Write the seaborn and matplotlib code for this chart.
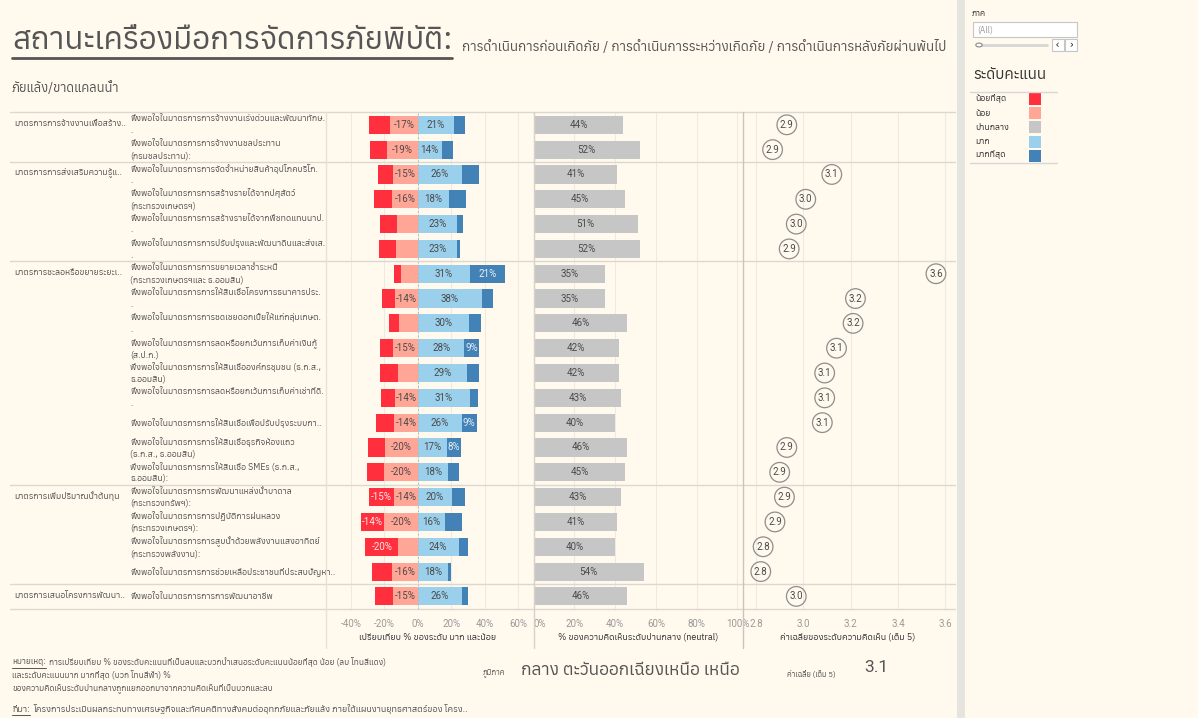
import matplotlib
matplotlib.use("Agg")
import numpy as np
import pandas as pd
import matplotlib.pyplot as plt
import seaborn as sns
from matplotlib import font_manager
from matplotlib.ft2font import FT2Font
from matplotlib.lines import Line2D
from matplotlib.patches import Rectangle, Circle

# ---------------- data ----------------
group_names = [
    "มาตรการการจ้างงานเพื่อสร้าง..",
    "มาตรการการส่งเสริมความรู้แ..",
    "มาตรการชะลอหรือขยายระยะเ..",
    "มาตรการเพิ่มปริมาณน้ำต้นทุน",
    "มาตรการเสนอโครงการพัฒนา..",
]
group_sizes = [2, 4, 9, 4, 1]

measures = [
    "พึงพอใจในมาตรการการจ้างงานเร่งด่วนและพัฒนาทักษ.\n.",
    "พึงพอใจในมาตรการการจ้างงานชลประทาน\n(กรมชลประทาน):",
    "พึงพอใจในมาตรการการจัดจำหน่ายสินค้าอุปโภคบริโภ.\n.",
    "พึงพอใจในมาตรการการสร้างรายได้จากปศุสัตว์\n(กระทรวงเกษตรฯ)",
    "พึงพอใจในมาตรการการสร้างรายได้จากพืชทดแทนนาป.\n.",
    "พึงพอใจในมาตรการการปรับปรุงและพัฒนาดินและส่งเส.\n.",
    "พึงพอใจในมาตรการการขยายเวลาชำระหนี้\n(กระทรวงเกษตรฯและ ธ.ออมสิน)",
    "พึงพอใจในมาตรการการให้สินเชื่อโครงการธนาคารประ.\n.",
    "พึงพอใจในมาตรการการชดเชยดอกเบี้ยให้แก่กลุ่มเกษต.\n.",
    "พึงพอใจในมาตรการการลดหรือยกเว้นการเก็บค่าเงินกู้\n(ส.ป.ก.)",
    "พึงพอใจในมาตรการการให้สินเชื่อองค์กรชุมชน (ธ.ก.ส.,\nธ.ออมสิน)",
    "พึงพอใจในมาตรการการลดหรือยกเว้นการเก็บค่าเช่าที่ดิ.\n.",
    "พึงพอใจในมาตรการการให้สินเชื่อเพื่อปรับปรุงระบบกา..",
    "พึงพอใจในมาตรการการให้สินเชื่อธุรกิจห้องแถว\n(ธ.ก.ส., ธ.ออมสิน)",
    "พึงพอใจในมาตรการการให้สินเชื่อ SMEs (ธ.ก.ส.,\nธ.ออมสิน):",
    "พึงพอใจในมาตรการการพัฒนาแหล่งน้ำบาดาล\n(กระทรวงทรัพฯ):",
    "พึงพอใจในมาตรการการปฏิบัติการฝนหลวง\n(กระทรวงเกษตรฯ):",
    "พึงพอใจในมาตรการการสูบน้ำด้วยพลังงานแสงอาทิตย์\n(กระทรวงพลังงาน):",
    "พึงพอใจในมาตรการการช่วยเหลือประชาชนที่ประสบปัญหา..",
    "พึงพอใจในมาตรการการการพัฒนาอาชีพ",
]

# share of answers per level (%)
very_low = [12.3, 10.2, 9.4, 11.0, 10.4, 10.3, 4.0, 7.8, 6.2, 8.2,
            11.2, 8.7, 10.8, 10.0, 10.6, 14.9, 13.8, 19.9, 11.6, 10.8]
low = [16.8, 18.6, 14.6, 15.5, 12.3, 12.8, 10.2, 13.5, 11.0, 14.6,
       11.6, 13.6, 14.0, 19.6, 20.1, 14.2, 20.1, 11.6, 15.6, 14.6]
neutral = [44, 52, 41, 45, 51, 52, 35, 35, 46, 42,
           42, 43, 40, 46, 45, 43, 41, 40, 54, 46]
high = [21.4, 14.2, 26.2, 18.4, 23.4, 23.3, 31.0, 38.2, 30.4, 27.9,
        29.4, 31.4, 26.2, 17.2, 18.3, 20.2, 16.1, 24.4, 18.3, 26.3]
very_high = [6.6, 6.8, 10.2, 10.6, 3.6, 2.0, 21.4, 6.6, 7.6, 8.8,
             7.0, 4.4, 9.0, 8.4, 6.4, 7.8, 10.2, 5.6, 1.6, 3.8]
mean_score = [2.93, 2.87, 3.12, 3.01, 2.97, 2.94, 3.56, 3.22, 3.21, 3.14,
              3.09, 3.09, 3.08, 2.93, 2.90, 2.92, 2.88, 2.83, 2.82, 2.97]

div_ticks = [-40, -20, 0, 20, 40, 60]
neu_ticks = [0, 20, 40, 60, 80, 100]
avg_ticks = [2.8, 3.0, 3.2, 3.4, 3.6]

level_names = ["น้อยที่สุด", "น้อย", "ปานกลาง", "มาก", "มากที่สุด"]
level_colors = ["#FF2F3D", "#FFA697", "#C6C6C6", "#9BD0EC", "#4382B7"]

regions = ["กลาง", "ตะวันออกเฉียงเหนือ", "เหนือ"]
overall_mean = 3.1

# ---------------- style ----------------
sns.set_theme(style="white")


def thai_capable_family():
    found = []
    for fe in font_manager.fontManager.ttflist:
        try:
            ft = FT2Font(fe.fname)
        except Exception:
            continue
        if ft.get_char_index(0x0E01) and ft.get_char_index(0x0E49):
            w = fe.weight if isinstance(fe.weight, (int, float)) else 400
            found.append((fe.style != "normal", abs(w - 400), "Looped" in fe.name, fe.name))
    if not found:
        return None
    found.sort()
    return found[0][3]


thai = thai_capable_family()
families = ([thai] if thai else []) + ["DejaVu Sans"]
plt.rcParams["font.family"] = families
NUM_FONT = ["Roboto"] + families

BG = "#FFF9EE"
TXT = "#555555"
LINE = "#DCD8CF"
GRID = "#EFEAE0"

W, H = 1198, 718
fig = plt.figure(figsize=(W / 100, H / 100), dpi=100)
fig.patch.set_facecolor(BG)


def px_axes(x0, y0, x1, y1):
    ax = fig.add_axes([x0 / W, 1 - y1 / H, (x1 - x0) / W, (y1 - y0) / H])
    ax.set_facecolor("none")
    for s in ax.spines.values():
        s.set_visible(False)
    return ax


def ftext(x, y, s, **kw):
    return fig.text(x / W, 1 - y / H, s, **kw)


def fline(xs, ys, **kw):
    fig.add_artist(Line2D([x / W for x in xs], [1 - y / H for y in ys],
                          transform=fig.transFigure, **kw))


def frect(x0, y0, x1, y1, **kw):
    fig.add_artist(Rectangle((x0 / W, 1 - y1 / H), (x1 - x0) / W, (y1 - y0) / H,
                             transform=fig.transFigure, **kw))


TOP, BOT = 112.4, 608.8
n = len(measures)
row_h = (BOT - TOP) / n

df = pd.DataFrame({
    "row": [f"m{i:02d}" for i in range(n)],
    "very_low": very_low, "low": low, "neutral": neutral,
    "high": high, "very_high": very_high, "mean": mean_score,
})
df["neg_total"] = -(df["very_low"] + df["low"])
df["neg_inner"] = -df["low"]
df["pos_total"] = df["high"] + df["very_high"]
order = df["row"].tolist()

ax_lab = px_axes(10, TOP, 326, BOT)
ax_div = px_axes(326, TOP, 533.5, BOT)
ax_neu = px_axes(533.5, TOP, 743, BOT)
ax_avg = px_axes(743, TOP, 953, BOT)

# ---------------- diverging bars ----------------
bar_w = 0.73
common = dict(y="row", order=order, orient="h", width=bar_w, saturation=1,
              errorbar=None, linewidth=0, ax=ax_div)
sns.barplot(data=df, x="neg_total", color=level_colors[0], **common)
sns.barplot(data=df, x="neg_inner", color=level_colors[1], **common)
sns.barplot(data=df, x="pos_total", color=level_colors[4], **common)
sns.barplot(data=df, x="high", color=level_colors[3], **common)
ax_div.set_xlim(-55, 69.3)

sns.barplot(data=df, x="neutral", y="row", order=order, orient="h", width=bar_w,
            saturation=1, errorbar=None, linewidth=0, color=level_colors[2], ax=ax_neu)
ax_neu.set_xlim(0, 102.7)

sns.scatterplot(data=df, x="mean", y="row", ax=ax_avg, s=200, marker="o",
                facecolors="none", edgecolor="#8E8E8E", linewidth=0.9, zorder=3)
ax_avg.set_xlim(2.745, 3.632)

for ax in (ax_lab, ax_div, ax_neu, ax_avg):
    ax.set_ylim(n - 0.5, -0.5)
    ax.set_ylabel("")
    ax.set_xlabel("")
    ax.set_yticks([])

# grid lines
for ax, ticks in ((ax_div, div_ticks), (ax_neu, neu_ticks), (ax_avg, avg_ticks)):
    for t in ticks:
        ax.axvline(t, color=GRID, lw=0.8, zorder=0)
ax_div.axvline(0, color="#B8B8B8", lw=0.7, ls=(0, (2, 2)), zorder=5)

fmt_pct = lambda v: f"{v:.0f}%"
ax_div.set_xticks(div_ticks, [fmt_pct(t) for t in div_ticks])
ax_neu.set_xticks(neu_ticks, [fmt_pct(t) for t in neu_ticks])
ax_avg.set_xticks(avg_ticks, [f"{t:.1f}" for t in avg_ticks])
for ax in (ax_div, ax_neu, ax_avg):
    ax.tick_params(axis="x", length=0, pad=7, labelsize=7, labelcolor="#9A9A9A")
    for lab in ax.get_xticklabels():
        lab.set_family(NUM_FONT)
# keep the first neutral tick inside its pane
ax_neu.get_xticklabels()[0].set_ha("left")
ax_lab.set_xticks([])
ax_lab.set_xlim(0, 316)

fig.canvas.draw()
renderer = fig.canvas.get_renderer()

# ---------------- bar value labels ----------------
div_px_per_unit = (533.5 - 326) / (69.3 + 55)


def seg_label(ax, x, y, value, seg_px, sign, color):
    s = f"{'-' if sign < 0 else ''}{value:.0f}%"
    t = ax.text(x, y, s, ha="center", va="center", fontsize=7, color=color,
                family=NUM_FONT, zorder=6)
    w = t.get_window_extent(renderer).width
    if w + 1.0 > seg_px:
        t.remove()


for i in range(n):
    vl, lo, hi, vh = very_low[i], low[i], high[i], very_high[i]
    seg_label(ax_div, -(lo + vl / 2), i, vl, vl * div_px_per_unit, -1, "#FFE9EA")
    seg_label(ax_div, -lo / 2, i, lo, lo * div_px_per_unit, -1, "#4A4A4A")
    seg_label(ax_div, hi / 2, i, hi, hi * div_px_per_unit, 1, "#4A4A4A")
    seg_label(ax_div, hi + vh / 2, i, vh, vh * div_px_per_unit, 1, "#E6F0F8")
    ax_neu.text(neutral[i] / 2, i, f"{neutral[i]:.0f}%", ha="center", va="center",
                fontsize=7, color="#4A4A4A", family=NUM_FONT)
    ax_avg.text(mean_score[i], i, f"{mean_score[i]:.1f}", ha="center", va="center",
                fontsize=7, color="#4A4A4A", family=NUM_FONT, zorder=4)

# ---------------- row / group labels ----------------
starts = np.cumsum([0] + group_sizes[:-1])
for g, st in zip(group_names, starts):
    ax_lab.text(4, st - 0.05, g, ha="left", va="center", fontsize=6.3, color=TXT)
for i, m in enumerate(measures):
    ax_lab.text(120, i, m, ha="left", va="center", fontsize=6.3, color=TXT,
                linespacing=1.4)

# separators
bounds = np.cumsum([0] + group_sizes)
for b in bounds:
    y = TOP + b * row_h
    fline([10, 955], [y, y], color=LINE, lw=1.0)
for x, c in ((326, "#E6E1D6"), (533.5, "#D6D2CA"), (743, "#C9C5BE")):
    fline([x, x], [TOP, 648], color=c, lw=1.0)

# axis titles
ftext(428, 637, "เปรียบเทียบ % ของระดับ มาก และน้อย", fontsize=6.5, color="#333333",
      ha="center", va="center")
ftext(638, 637, "% ของความคิดเห็นระดับปานกลาง (neutral)", fontsize=6.5, color="#333333",
      ha="center", va="center")
ftext(848, 637, "ค่าเฉลี่ยของระดับความคิดเห็น (เต็ม 5)", fontsize=6.5, color="#333333",
      ha="center", va="center")

# ---------------- header ----------------
title = ftext(12, 40, "สถานะเครื่องมือการจัดการภัยพิบัติ:", fontsize=22.5, color=TXT,
              ha="left", va="center")
ftext(462, 47, "การดำเนินการก่อนเกิดภัย / การดำเนินการระหว่างเกิดภัย / การดำเนินการหลังภัยผ่านพ้นไป",
      fontsize=9.7, color=TXT, ha="left", va="center")
ftext(12, 88, "ภัยแล้ง/ขาดแคลนน้ำ", fontsize=9.3, color=TXT, ha="left", va="center")

fig.canvas.draw()
bb = title.get_window_extent(renderer)
fline([bb.x0, bb.x1], [58, 58], color=TXT, lw=2)

# ---------------- footer ----------------
def underlined_prefix(x, y, prefix, rest, size):
    t = ftext(x, y, prefix, fontsize=size, color=TXT, ha="left", va="center")
    fig.canvas.draw()
    b = t.get_window_extent(renderer)
    fline([b.x0, b.x1], [y + 6, y + 6], color=TXT, lw=0.7)
    ftext(b.x1 + 3, y, rest, fontsize=size, color=TXT, ha="left", va="center")


FOOT = 6.0
underlined_prefix(12, 662, "หมายเหตุ:",
                  "การเปรียบเทียบ % ของระดับคะแนนที่เป็นลบและบวกนำเสนอระดับคะแนนน้อยที่สุด น้อย (ลบ โทนสีแดง)", FOOT)
ftext(12, 675, "และระดับคะแนนมาก มากที่สุด (บวก โทนสีฟ้า) %", fontsize=FOOT, color=TXT,
      ha="left", va="center")
ftext(12, 688, "ของความคิดเห็นระดับปานกลางถูกแยกออกมาจากความคิดเห็นที่เป็นบวกและลบ", fontsize=FOOT,
      color=TXT, ha="left", va="center")
underlined_prefix(12, 709, "ที่มา:",
                  "โครงการประเมินผลกระทบทางเศรษฐกิจและทัศนคติทางสังคมต่ออุทกภัยและภัยแล้ง ภายใต้แผนงานยุทธศาสตร์ของ โครง..", 6.5)

ftext(483, 674, "ภูมิภาค", fontsize=5.5, color=TXT, ha="left", va="center")
ftext(521, 670, " ".join(regions), fontsize=12.5, color=TXT, ha="left", va="center")
ftext(787, 675, "ค่าเฉลี่ย (เต็ม 5)", fontsize=5.5, color=TXT, ha="left", va="center")
ftext(864, 667, f"{overall_mean:.1f}", fontsize=12.5, color=TXT, ha="left", va="center",
      family=NUM_FONT)

# ---------------- side panel ----------------
frect(957, 0, 965, H, color="#E6E4DF", lw=0)
ftext(972, 13, "ภาค", fontsize=6, color="#333333", ha="left", va="center")
frect(973, 22, 1077, 37, facecolor="white", edgecolor="#C6C6C6", lw=0.8)
ftext(977, 29.5, "(All)", fontsize=6, color="#9A9A9A", ha="left", va="center")
fline([979, 1047], [45, 45], color="#D6D6D6", lw=2)
fig.add_artist(Circle((979 / W, 1 - 45 / H), 3.2 / W, transform=fig.transFigure,
                      facecolor="white", edgecolor="#888888", lw=0.8, zorder=5))
for x0, sym in ((1052, "‹"), (1065, "›")):
    frect(x0, 39, x0 + 11.5, 51, facecolor="white", edgecolor="#C6C6C6", lw=0.8)
    ftext(x0 + 5.8, 44.5, sym, fontsize=8, color="#333333", ha="center", va="center")

ftext(973, 75, "ระดับคะแนน", fontsize=11, color="#333333", ha="left", va="center",
      fontweight="bold")
fline([970, 1057], [92, 92], color="#D8D8D8", lw=1)
fline([970, 1057], [163, 163], color="#D8D8D8", lw=1)
for k, (name, col) in enumerate(zip(level_names, level_colors)):
    y = 99 + k * 14.2
    ftext(975, y, name, fontsize=6.3, color="#333333", ha="left", va="center")
    frect(1029, y - 6, 1041, y + 6, facecolor=col, edgecolor="none")

fig.savefig("out.png", dpi=100, facecolor=BG)
